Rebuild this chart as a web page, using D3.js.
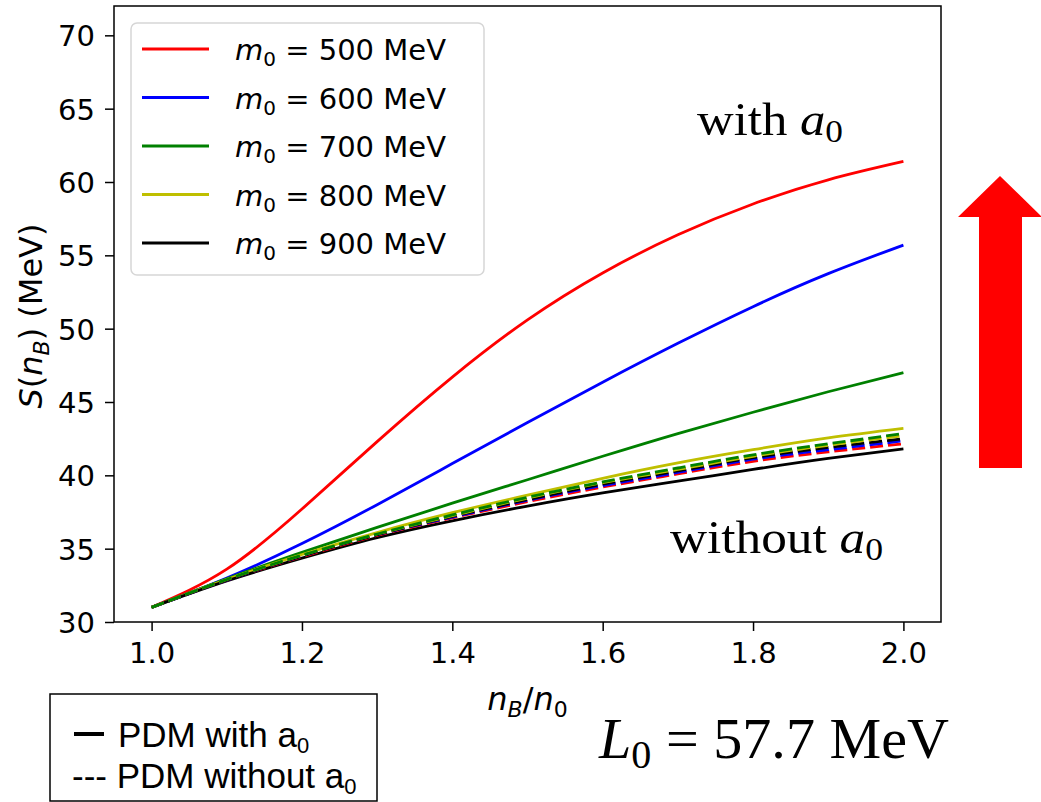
<!DOCTYPE html>
<html>
<head>
  <meta charset="UTF-8">
  <title>Symmetry energy S(nB)</title>
  <script src="https://d3js.org/d3.v7.min.js"></script>
  <style>
    body { margin: 0; padding: 0; background: #fff; }
    svg { display: block; }
    .tick text { font-family: "DejaVu Sans", sans-serif; font-size: 29px; fill: #000; }
    .tick line { stroke: #000; stroke-width: 1.5; }
  </style>
</head>
<body>
<script>
  // density grid n_B/n_0
  const nB = [1.0, 1.1, 1.2, 1.3, 1.4, 1.5, 1.6, 1.7, 1.8, 1.9, 2.0];

  // PDM with a0 (solid)
  const with500 = [31.0, 33.6, 37.7, 42.3, 46.7, 50.6, 53.8, 56.4, 58.5, 60.15, 61.4];
  const with600 = [31.0, 33.0, 35.35, 38.0, 40.8, 43.6, 46.35, 49.0, 51.5, 53.75, 55.7];
  const with700 = [31.0, 32.95, 34.75, 36.45, 38.1, 39.7, 41.3, 42.85, 44.3, 45.7, 47.0];
  const with800 = [31.0, 32.9, 34.6, 36.1, 37.45, 38.65, 39.8, 40.85, 41.75, 42.55, 43.2];
  const with900 = [31.0, 32.8, 34.35, 35.75, 36.9, 37.9, 38.8, 39.6, 40.4, 41.15, 41.8];

  // PDM without a0 (dashed)
  const wo500 = [31.0, 32.85, 34.45, 35.9, 37.1, 38.2, 39.2, 40.1, 40.95, 41.6, 42.15];
  const wo600 = [31.0, 32.85, 34.5, 35.95, 37.15, 38.3, 39.3, 40.2, 41.1, 41.75, 42.35];
  const wo700 = [31.0, 32.9, 34.55, 36.0, 37.3, 38.5, 39.55, 40.5, 41.4, 42.15, 42.85];
  const wo800 = [31.0, 32.9, 34.55, 36.0, 37.25, 38.45, 39.5, 40.4, 41.3, 42.05, 42.7];
  const wo900 = [31.0, 32.85, 34.5, 35.95, 37.2, 38.35, 39.4, 40.3, 41.2, 41.9, 42.5];

  const masses = ["500", "600", "700", "800", "900"];
  const colors = ["#ff0000", "#0000ff", "#008000", "#bfbf00", "#000000"];
  const withSeries = [with500, with600, with700, with800, with900];
  const woSeries = [wo500, wo600, wo700, wo800, wo900];

  const xTicks = [1.0, 1.2, 1.4, 1.6, 1.8, 2.0];
  const yTicks = [30, 35, 40, 45, 50, 55, 60, 65, 70];

  const width = 1041, height = 802;
  const plotL = 114, plotR = 941, plotT = 6, plotB = 622;

  const svg = d3.select("body").append("svg")
    .attr("width", width)
    .attr("height", height);

  svg.append("rect").attr("width", width).attr("height", height).attr("fill", "#fff");

  const x = d3.scaleLinear().domain([0.95, 2.05]).range([plotL, plotR]);
  const y = d3.scaleLinear().domain([30, 72]).range([plotB, plotT]);

  const line = d3.line()
    .x(d => x(d[0]))
    .y(d => y(d[1]))
    .curve(d3.curveNatural);

  const plot = svg.append("g");

  // solid curves
  withSeries.forEach((s, i) => {
    plot.append("path")
      .datum(nB.map((v, j) => [v, s[j]]))
      .attr("d", line)
      .attr("fill", "none")
      .attr("stroke", colors[i])
      .attr("stroke-width", 2.8);
  });

  // dashed curves (yellow under green)
  [0, 1, 4, 3, 2].forEach(i => {
    plot.append("path")
      .datum(nB.map((v, j) => [v, woSeries[i][j]]))
      .attr("d", line)
      .attr("fill", "none")
      .attr("stroke", colors[i])
      .attr("stroke-width", 2.8)
      .attr("stroke-dasharray", "13,5");
  });

  // axes
  const xAxis = svg.append("g")
    .attr("transform", `translate(0,${plotB})`)
    .call(d3.axisBottom(x).tickValues(xTicks).tickFormat(d3.format(".1f")).tickSize(9).tickPadding(11));
  xAxis.select(".domain").remove();

  const yAxis = svg.append("g")
    .attr("transform", `translate(${plotL},0)`)
    .call(d3.axisLeft(y).tickValues(yTicks).tickSize(9).tickPadding(10));
  yAxis.select(".domain").remove();
  yAxis.selectAll(".tick text").attr("dy", "0.36em");

  // frame
  svg.append("rect")
    .attr("x", plotL).attr("y", plotT)
    .attr("width", plotR - plotL).attr("height", plotB - plotT)
    .attr("fill", "none").attr("stroke", "#000").attr("stroke-width", 1.5);

  // axis labels
  const xl = svg.append("text")
    .attr("x", (plotL + plotR) / 2).attr("y", 710)
    .attr("text-anchor", "middle")
    .style("font-family", "DejaVu Sans, sans-serif").style("font-size", "32px");
  xl.append("tspan").style("font-style", "italic").text("n");
  xl.append("tspan").attr("dy", 7).style("font-size", "22px").style("font-style", "italic").text("B");
  xl.append("tspan").attr("dy", -7).text("/");
  xl.append("tspan").style("font-style", "italic").text("n");
  xl.append("tspan").attr("dy", 7).style("font-size", "22px").text("0");

  const yl = svg.append("text")
    .attr("transform", "translate(42,316) rotate(-90)")
    .attr("text-anchor", "middle")
    .style("font-family", "DejaVu Sans, sans-serif").style("font-size", "32px");
  yl.append("tspan").style("font-style", "italic").text("S");
  yl.append("tspan").text("(");
  yl.append("tspan").style("font-style", "italic").text("n");
  yl.append("tspan").attr("dy", 7).style("font-size", "22px").style("font-style", "italic").text("B");
  yl.append("tspan").attr("dy", -7).text(") (MeV)");

  // legend
  const lg = svg.append("g");
  lg.append("rect")
    .attr("x", 131).attr("y", 23).attr("width", 353).attr("height", 252)
    .attr("rx", 6).attr("fill", "#fff").attr("fill-opacity", 0.8)
    .attr("stroke", "#d6d6d6").attr("stroke-width", 1.5);
  masses.forEach((m, i) => {
    const ry = 49 + i * 48.5;
    lg.append("line")
      .attr("x1", 142).attr("x2", 209).attr("y1", ry).attr("y2", ry)
      .attr("stroke", colors[i]).attr("stroke-width", 2.8);
    const t = lg.append("text")
      .attr("x", 235).attr("y", ry + 11)
      .style("font-family", "DejaVu Sans, sans-serif").style("font-size", "29px");
    t.append("tspan").style("font-style", "italic").text("m");
    t.append("tspan").attr("dy", 6).style("font-size", "20px").text("0");
    t.append("tspan").attr("dy", -6).text(` = ${m} MeV`);
  });

  // annotations
  const serif = "Liberation Serif, DejaVu Serif, serif";
  const w1 = svg.append("text")
    .attr("x", 697).attr("y", 135)
    .attr("textLength", 146).attr("lengthAdjust", "spacingAndGlyphs")
    .style("font-family", serif).style("font-size", "46px");
  w1.append("tspan").text("with ");
  w1.append("tspan").style("font-style", "italic").text("a");
  w1.append("tspan").attr("dy", 7).style("font-size", "32px").text("0");

  const w2 = svg.append("text")
    .attr("x", 670).attr("y", 553)
    .attr("textLength", 213).attr("lengthAdjust", "spacingAndGlyphs")
    .style("font-family", serif).style("font-size", "46px");
  w2.append("tspan").text("without ");
  w2.append("tspan").style("font-style", "italic").text("a");
  w2.append("tspan").attr("dy", 7).style("font-size", "32px").text("0");

  const lz = svg.append("text")
    .attr("x", 599).attr("y", 758)
    .attr("textLength", 350).attr("lengthAdjust", "spacingAndGlyphs")
    .style("font-family", serif).style("font-size", "58px");
  lz.append("tspan").style("font-style", "italic").text("L");
  lz.append("tspan").attr("dy", 10).style("font-size", "40px").text("0");
  lz.append("tspan").attr("dy", -10).text(" = 57.7 MeV");

  // red arrow
  svg.append("path")
    .attr("d", "M1000,176 L1042,217 L1022,217 L1022,468 L979,468 L979,217 L958,217 Z")
    .attr("fill", "#ff0000");

  // line-style key box
  const kb = svg.append("g");
  kb.append("rect")
    .attr("x", 50).attr("y", 694).attr("width", 327).attr("height", 107)
    .attr("fill", "#fff").attr("stroke", "#000").attr("stroke-width", 1.5);
  const narrow = "Liberation Sans Narrow, Arial Narrow, Liberation Sans, sans-serif";
  kb.append("line")
    .attr("x1", 74).attr("x2", 104).attr("y1", 734).attr("y2", 734)
    .attr("stroke", "#000").attr("stroke-width", 4);
  const k1 = kb.append("text")
    .attr("x", 118).attr("y", 747)
    .style("font-family", narrow).style("font-size", "35px");
  k1.append("tspan").text("PDM with a");
  k1.append("tspan").attr("dy", 6).style("font-size", "22px").text("0");
  const k2 = kb.append("text")
    .attr("x", 72).attr("y", 788)
    .style("font-family", narrow).style("font-size", "35px");
  k2.append("tspan").text("--- PDM without a");
  k2.append("tspan").attr("dy", 6).style("font-size", "22px").text("0");
</script>
</body>
</html>
